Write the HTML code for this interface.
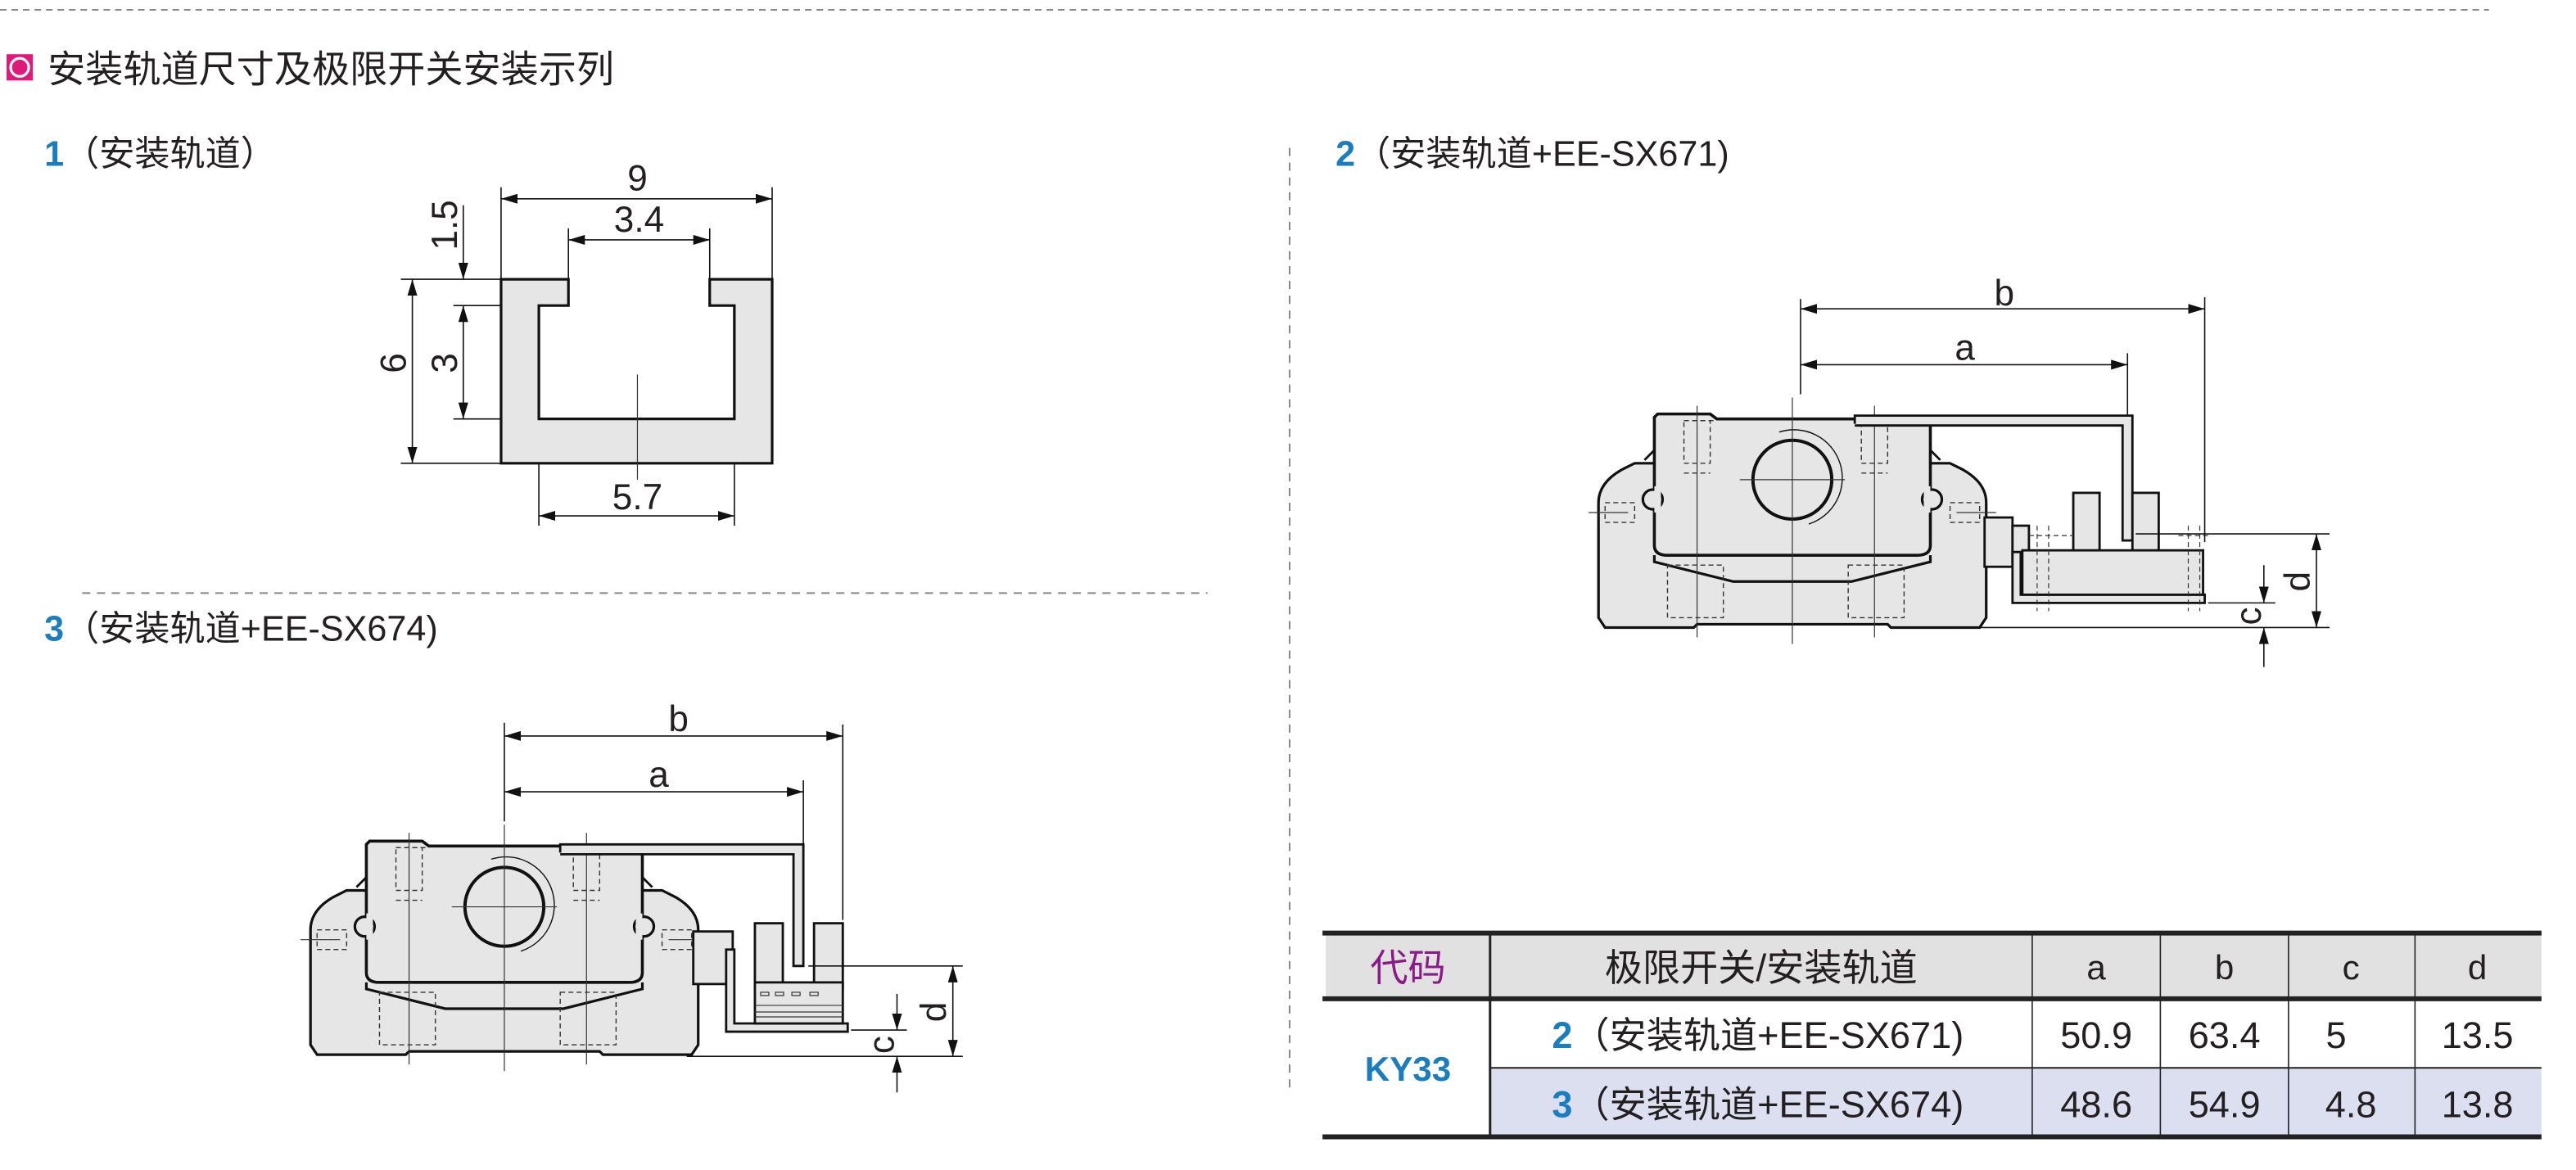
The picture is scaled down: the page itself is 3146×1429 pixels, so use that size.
<!DOCTYPE html>
<html><head><meta charset="utf-8"><style>
html,body{margin:0;padding:0;background:#fff;}
svg{display:block;}
text{font-family:"Liberation Sans","Noto Sans CJK SC",sans-serif;fill:#231f20;}
</style></head><body>
<svg width="3146" height="1429" viewBox="0 0 1568 712.2" preserveAspectRatio="none" xmlns="http://www.w3.org/2000/svg">
<defs>
<marker id="ar" viewBox="0 0 10 6" refX="10" refY="3" markerWidth="10" markerHeight="6" orient="auto-start-reverse" markerUnits="userSpaceOnUse"><path d="M0,0 L10,3 L0,6 Z" fill="#111"/></marker>
<g id="blk">
 <path d="M-114,90 L-118,84 L-118,14 Q-118,2 -104,-6 L-96,-10 L96,-10 L104,-6 Q118,2 118,14 L118,84 L114,90 L60,90 L58,88 L-58,88 L-60,90 Z" fill="#e6e6e7" stroke="#111" stroke-width="1.6"/>
 <path d="M-84,-38 L-82,-40 L-50,-40 L-46,-37 L84,-37 L84,40 Q84,46 76,46 L-76,46 Q-84,46 -84,40 Z" fill="#e6e6e7" stroke="#111" stroke-width="1.8"/>
 <circle cx="-85" cy="12" r="6" fill="#e6e6e7" stroke="#111" stroke-width="1.6"/>
 <circle cx="85" cy="12" r="6" fill="#e6e6e7" stroke="#111" stroke-width="1.6"/>
 <rect x="-84" y="4" width="4" height="16" fill="#e6e6e7"/>
 <rect x="80" y="4" width="4" height="16" fill="#e6e6e7"/>
 <polyline points="-84,46 -84,50 -36,62 36,62 84,50 84,46" fill="none" stroke="#111" stroke-width="1.6"/>
 <path d="M-90,-12 L-84,-18 M90,-12 L84,-18" stroke="#111" stroke-width="1.4"/>
 <circle cx="0" cy="0" r="24" fill="none" stroke="#111" stroke-width="2"/>
 <path d="M-8,-29 A29,29 0 0,1 10,27" fill="none" stroke="#111" stroke-width="0.7"/>
 <g fill="none" stroke="#333" stroke-width="0.7" stroke-dasharray="3,2">
  <rect x="-66" y="-36" width="16" height="26"/><rect x="42" y="-36" width="16" height="26"/>
  <path d="M-66,-4 L-50,-4 M42,-4 L58,-4 M-66,-36 L-46,-36"/>
  <rect x="-114" y="14" width="18" height="12"/><rect x="96" y="14" width="18" height="12"/>
  <rect x="-76" y="52" width="34" height="32"/><rect x="34" y="52" width="34" height="32"/>
 </g>
 <g stroke="#333" stroke-width="0.6">
  <line x1="-58" y1="-45" x2="-58" y2="96"/><line x1="50" y1="-45" x2="50" y2="96"/>
  <line x1="0" y1="-50" x2="0" y2="100"/><line x1="-32" y1="0" x2="32" y2="0"/>
  <line x1="-124" y1="20" x2="-100" y2="20"/><line x1="100" y1="20" x2="124" y2="20"/>
 </g>
</g>
</defs>

<line x1="0" y1="6" x2="1515" y2="6" stroke="#888" stroke-width="1" stroke-dasharray="4,3"/>
<rect x="4" y="33" width="16" height="16" fill="#e0197a"/>
<circle cx="12" cy="41" r="5.5" fill="none" stroke="#fff" stroke-width="1.6"/>
<text x="29" y="50" font-size="23">安装轨道尺寸及极限开关安装示列</text>

<text x="27" y="101" font-size="21.5"><tspan style="fill:#1a7dc0" font-weight="bold">1</tspan>（安装轨道）</text>
<text x="27" y="390" font-size="21.5"><tspan style="fill:#1a7dc0" font-weight="bold">3</tspan>（安装轨道+EE-SX674)</text>
<text x="813" y="101" font-size="21.5"><tspan style="fill:#1a7dc0" font-weight="bold">2</tspan>（安装轨道+EE-SX671)</text>

<line x1="785" y1="90" x2="785" y2="665" stroke="#888" stroke-width="1" stroke-dasharray="5,4"/>
<line x1="50" y1="361" x2="735" y2="361" stroke="#888" stroke-width="1" stroke-dasharray="5,4"/>

<polygon points="305,170 346,170 346,186 328,186 328,255 447,255 447,186 432,186 432,170 470,170 470,282 305,282" fill="#e6e6e7" stroke="#111" stroke-width="1.6"/>
<line x1="388" y1="228" x2="388" y2="292" stroke="#333" stroke-width="0.6"/>
<g stroke="#111" stroke-width="0.8" fill="none">
 <line x1="305" y1="114" x2="305" y2="170"/><line x1="470" y1="114" x2="470" y2="170"/>
 <line x1="305" y1="121" x2="470" y2="121" marker-start="url(#ar)" marker-end="url(#ar)"/>
 <line x1="346" y1="139" x2="346" y2="170"/><line x1="432" y1="139" x2="432" y2="170"/>
 <line x1="346" y1="146" x2="432" y2="146" marker-start="url(#ar)" marker-end="url(#ar)"/>
 <line x1="328" y1="282" x2="328" y2="320"/><line x1="447" y1="282" x2="447" y2="320"/>
 <line x1="328" y1="314" x2="447" y2="314" marker-start="url(#ar)" marker-end="url(#ar)"/>
 <line x1="244" y1="170" x2="305" y2="170"/><line x1="276" y1="186" x2="305" y2="186"/>
 <line x1="276" y1="255" x2="305" y2="255"/><line x1="244" y1="282" x2="305" y2="282"/>
 <line x1="282" y1="125" x2="282" y2="170" marker-end="url(#ar)"/>
 <line x1="282" y1="186" x2="282" y2="255" marker-start="url(#ar)" marker-end="url(#ar)"/>
 <line x1="251" y1="170" x2="251" y2="282" marker-start="url(#ar)" marker-end="url(#ar)"/>
</g>
<text x="388" y="116" font-size="22" text-anchor="middle">9</text>
<text x="389" y="141" font-size="22" text-anchor="middle">3.4</text>
<text x="388" y="310" font-size="22" text-anchor="middle">5.7</text>
<text transform="translate(278,137) rotate(-90)" font-size="22" text-anchor="middle">1.5</text>
<text transform="translate(278,221) rotate(-90)" font-size="22" text-anchor="middle">3</text>
<text transform="translate(247,221) rotate(-90)" font-size="22" text-anchor="middle">6</text>

<use href="#blk" transform="translate(307,552)"/>
<g fill="#e6e6e7" stroke="#111" stroke-width="1.4">
 <rect x="422" y="567" width="24" height="32"/>
 <polyline points="341,519 341,514 489,514 489,588 483,588 483,520 341,520" />
 <path d="M442,578 L442,628 L516,628 L516,623 L447,623 L447,578 Z"/>
 <rect x="459.5" y="562" width="17" height="40"/><rect x="495.5" y="562" width="17.5" height="40"/>
 <rect x="459.5" y="598" width="53.5" height="25"/>
</g>
<g stroke="#333" stroke-width="0.6" fill="none">
 <line x1="459.5" y1="612" x2="513" y2="612"/><line x1="459.5" y1="616" x2="513" y2="616"/><line x1="459.5" y1="619" x2="513" y2="619"/>
 <rect x="463" y="604" width="5" height="2"/><rect x="472" y="604" width="5" height="2"/><rect x="482" y="604" width="5" height="2"/><rect x="493" y="604" width="5" height="2"/>
</g>
<g stroke="#111" stroke-width="0.8" fill="none">
 <line x1="307" y1="440" x2="307" y2="500"/>
 <line x1="307" y1="448" x2="513" y2="448" marker-start="url(#ar)" marker-end="url(#ar)"/>
 <line x1="513" y1="441" x2="513" y2="560"/>
 <line x1="307" y1="482" x2="489" y2="482" marker-start="url(#ar)" marker-end="url(#ar)"/>
 <line x1="489" y1="475" x2="489" y2="514"/>
 <line x1="492" y1="588" x2="586" y2="588"/><line x1="518" y1="627" x2="552" y2="627"/><line x1="418" y1="643" x2="586" y2="643"/>
 <line x1="580" y1="588" x2="580" y2="643" marker-start="url(#ar)" marker-end="url(#ar)"/>
 <line x1="546" y1="605" x2="546" y2="627" marker-end="url(#ar)"/>
 <line x1="546" y1="665" x2="546" y2="643" marker-end="url(#ar)"/>
</g>
<text x="413" y="445" font-size="22" text-anchor="middle">b</text>
<text x="401" y="479" font-size="22" text-anchor="middle">a</text>
<text transform="translate(576,616) rotate(-90)" font-size="22" text-anchor="middle">d</text>
<text transform="translate(544,636) rotate(-90)" font-size="22" text-anchor="middle">c</text>

<use href="#blk" transform="translate(1091,292)"/>
<g fill="#e6e6e7" stroke="#111" stroke-width="1.4">
 <rect x="1208" y="315" width="17" height="30"/><rect x="1225" y="320" width="10" height="22"/>
 <polyline points="1129,258 1129,253 1298,253 1298,329 1292,329 1292,259 1129,259"/>
 <path d="M1225,336 L1225,367 L1342,367 L1342,362 L1230,362 L1230,336 Z"/>
 <rect x="1262" y="300" width="16" height="36"/><rect x="1298" y="300" width="16" height="36"/>
 <rect x="1231" y="335" width="110" height="27"/>
</g>
<g stroke="#333" stroke-width="0.6" fill="none" stroke-dasharray="3,2">
 <line x1="1240" y1="320" x2="1240" y2="372"/><line x1="1247" y1="320" x2="1247" y2="372"/>
 <line x1="1332" y1="320" x2="1332" y2="372"/><line x1="1339" y1="320" x2="1339" y2="372"/>
 <line x1="1235" y1="326" x2="1262" y2="326"/><line x1="1326" y1="326" x2="1345" y2="326"/>
</g>
<g stroke="#111" stroke-width="0.8" fill="none">
 <line x1="1096" y1="182" x2="1096" y2="240"/>
 <line x1="1096" y1="188" x2="1342" y2="188" marker-start="url(#ar)" marker-end="url(#ar)"/>
 <line x1="1342" y1="181" x2="1342" y2="330"/>
 <line x1="1096" y1="222" x2="1295" y2="222" marker-start="url(#ar)" marker-end="url(#ar)"/>
 <line x1="1295" y1="215" x2="1295" y2="253"/>
 <line x1="1300" y1="325" x2="1418" y2="325"/><line x1="1344" y1="367" x2="1385" y2="367"/><line x1="1190" y1="382" x2="1418" y2="382"/>
 <line x1="1410" y1="325" x2="1410" y2="382" marker-start="url(#ar)" marker-end="url(#ar)"/>
 <line x1="1378" y1="344" x2="1378" y2="367" marker-end="url(#ar)"/>
 <line x1="1378" y1="406" x2="1378" y2="382" marker-end="url(#ar)"/>
</g>
<text x="1220" y="186" font-size="22" text-anchor="middle">b</text>
<text x="1196" y="219" font-size="22" text-anchor="middle">a</text>
<text transform="translate(1406,354) rotate(-90)" font-size="22" text-anchor="middle">d</text>
<text transform="translate(1376,375) rotate(-90)" font-size="22" text-anchor="middle">c</text>

<rect x="807" y="568" width="740" height="40" fill="#e1e1e1"/>
<rect x="907" y="650" width="640" height="42" fill="#dcdff0"/>
<g stroke="#222" fill="none">
 <line x1="805" y1="568" x2="1547" y2="568" stroke-width="3"/>
 <line x1="805" y1="608" x2="1547" y2="608" stroke-width="3"/>
 <line x1="805" y1="692" x2="1547" y2="692" stroke-width="3"/>
 <line x1="907" y1="650" x2="1547" y2="650" stroke-width="1"/>
 <line x1="907" y1="568" x2="907" y2="692" stroke-width="1.5"/>
 <line x1="1237" y1="568" x2="1237" y2="692" stroke-width="0.8"/>
 <line x1="1315" y1="568" x2="1315" y2="692" stroke-width="0.8"/>
 <line x1="1393" y1="568" x2="1393" y2="692" stroke-width="0.8"/>
 <line x1="1470" y1="568" x2="1470" y2="692" stroke-width="0.8"/>
</g>
<text x="857" y="597" font-size="23" text-anchor="middle" style="fill:#8b1a89">代码</text>
<text x="1072" y="597" font-size="23" text-anchor="middle">极限开关/安装轨道</text>
<text x="1276" y="596" font-size="21" text-anchor="middle">a</text>
<text x="1354" y="596" font-size="21" text-anchor="middle">b</text>
<text x="1431" y="596" font-size="21" text-anchor="middle">c</text>
<text x="1508" y="596" font-size="21" text-anchor="middle">d</text>
<text x="857" y="658" font-size="21" font-weight="bold" text-anchor="middle" style="fill:#1a7dc0">KY33</text>
<text x="1070" y="638" font-size="22.5" text-anchor="middle"><tspan style="fill:#1a7dc0" font-weight="bold">2</tspan>（安装轨道+EE-SX671)</text>
<text x="1070" y="680" font-size="22.5" text-anchor="middle"><tspan style="fill:#1a7dc0" font-weight="bold">3</tspan>（安装轨道+EE-SX674)</text>
<text x="1276" y="638" font-size="22.5" text-anchor="middle">50.9</text>
<text x="1354" y="638" font-size="22.5" text-anchor="middle">63.4</text>
<text x="1422" y="638" font-size="22.5" text-anchor="middle">5</text>
<text x="1508" y="638" font-size="22.5" text-anchor="middle">13.5</text>
<text x="1276" y="680" font-size="22.5" text-anchor="middle">48.6</text>
<text x="1354" y="680" font-size="22.5" text-anchor="middle">54.9</text>
<text x="1431" y="680" font-size="22.5" text-anchor="middle">4.8</text>
<text x="1508" y="680" font-size="22.5" text-anchor="middle">13.8</text>
</svg>
</body></html>
